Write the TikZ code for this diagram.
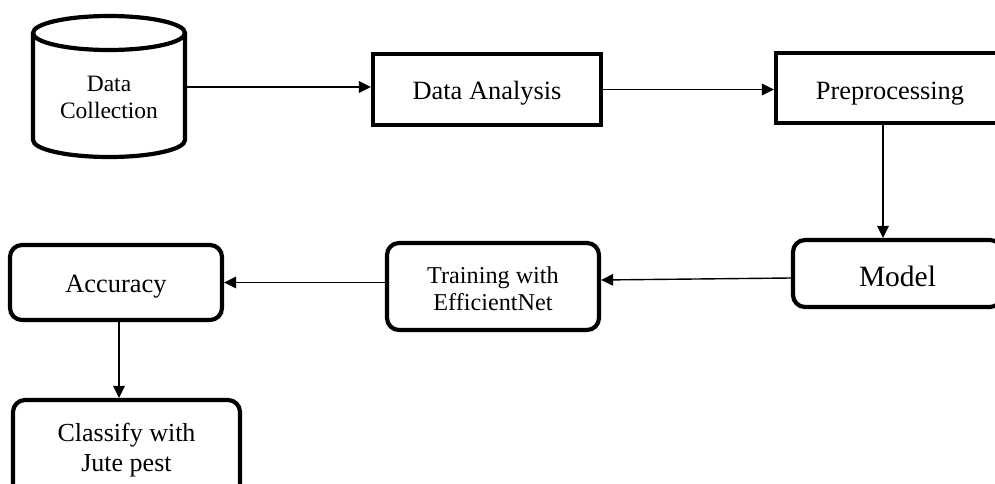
\documentclass[tikz,border=0pt]{standalone}
\usepackage{fontspec}
\setmainfont{Liberation Serif}
\usetikzlibrary{arrows.meta}
\newcommand{\twolines}[4]{\raisebox{0pt}[#1][#2]{\begin{tabular}[t]{@{}c@{}}#3\\#4\end{tabular}}}
\begin{document}
\begin{tikzpicture}[x=1pt,y=1pt,
  thick border/.style={draw=black, line width=4.2pt},
  sqbox/.style={thick border, rectangle, inner sep=0pt, align=center, font=\fontsize{26.4}{28}\selectfont, text depth=0pt},
  rbox/.style={sqbox, rounded corners=12pt},
  conn/.style={line width=1.4pt, -{Triangle[length=12pt,width=11.5pt]}}
]
\useasboundingbox (0,0) rectangle (995,-484);
\clip (0,0) rectangle (995,-484);

% cylinder
\draw[line width=4.2pt] (109,-33) ellipse [x radius=76, y radius=17];
\draw[line width=4.2pt] (33,-33) -- (33,-140) arc[start angle=180,end angle=360,x radius=76,y radius=17] -- (185,-33);
\node[inner sep=0pt, minimum width=152pt, font=\fontsize{23.5}{26.7}\selectfont] (dc) at (109,-87)
  {\twolines{9.4pt}{0pt}{Data}{Collection}};

\node[sqbox, minimum width=228pt, minimum height=71pt, text height=21pt] (da) at (487,-89.5) {Data Analysis};
\node[sqbox, minimum width=228pt, minimum height=70pt, text height=22.6pt] (pp) at (890,-88) {Preprocessing};
\node[rbox, minimum width=209pt, minimum height=67pt, text height=26.4pt, font=\fontsize{29.5}{31}\selectfont] (md) at (897.5,-273.5) {Model};
\node[rbox, minimum width=212pt, minimum height=87pt, font=\fontsize{24.2}{26.7}\selectfont, text depth=, text height=] (tr) at (493,-286.5)
  {\twolines{0pt}{6.4pt}{Training with}{EfficientNet}};
\node[rbox, minimum width=212pt, minimum height=75pt, text height=20.4pt] (ac) at (116,-282.5) {Accuracy};
\node[rbox, minimum width=227pt, minimum height=96pt, font=\fontsize{26}{30}\selectfont, text depth=, text height=] (cl) at (126.5,-448)
  {\twolines{0pt}{12.6pt}{Classify with}{Jute pest}};

\draw[conn] (dc.east) -- (dc.east -| da.west);
\draw[conn] (da.east) -- (da.east -| pp.west);
\draw[conn] ([xshift=-7pt]pp.south) -- ([xshift=-7pt]pp.south |- md.north);
\draw[conn] ([yshift=-4.5pt]md.west) -- ([yshift=6.5pt]tr.east);
\draw[conn] ([yshift=4pt]tr.west) -- (ac.east);
\draw[conn] ([xshift=3pt]ac.south) -- ([xshift=3pt]ac.south |- cl.north);
\end{tikzpicture}
\end{document}
